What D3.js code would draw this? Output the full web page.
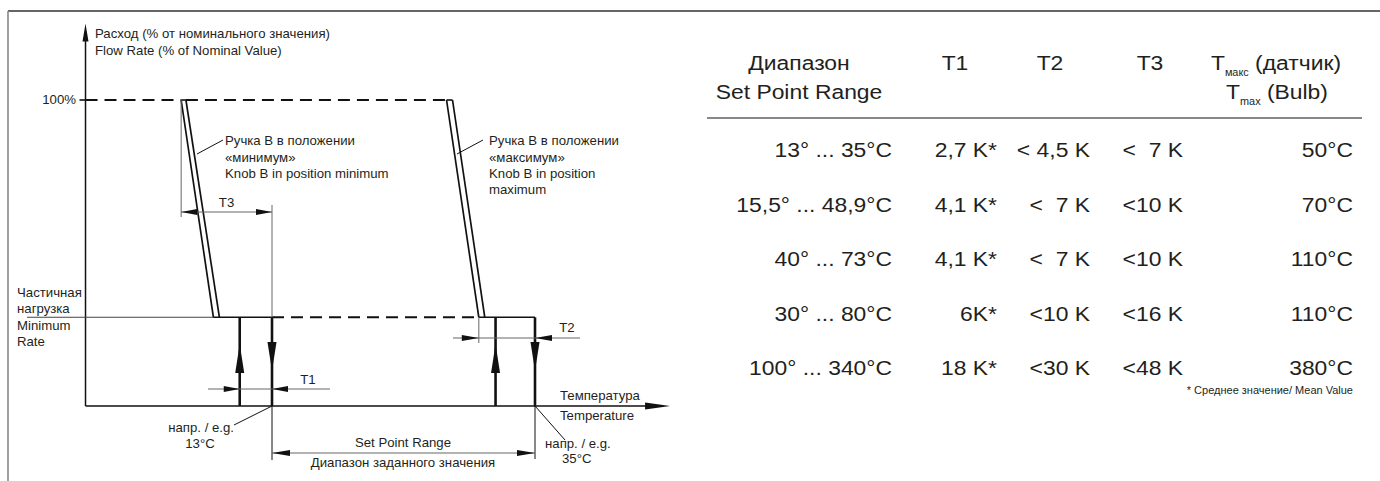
<!DOCTYPE html>
<html><head><meta charset="utf-8">
<script src="https://cdn.jsdelivr.net/npm/d3@7"></script>
<style>
html,body{margin:0;padding:0;background:#fff;}
svg{display:block;}
text{font-family:"Liberation Sans",Arial,sans-serif;fill:#231f20;white-space:pre;}
</style></head>
<body>
<svg id="c" width="1380" height="481"></svg>
<script>
// ---------- DATA ----------
// Example set point (°C) used in the diagram: 13°C ... 35°C
const setPoints = [13, 35];
const flowLevels = [100, 29];          // % nominal: full flow, minimum (partial) rate
const yAxisMax = 125;                  // % – top of flow axis arrow
const xAxisRange = [-2.6, 46.3];       // °C – extent of temperature axis
// knob B "minimum" curve (double line): [temp at 100%, temp at min rate]
const curveMinA = [5.4, 8.1];
const curveMinB = [5.8, 8.6];
// knob B "maximum" curve
const curveMaxA = [27.6, 30.3];
const curveMaxB = [28.1, 30.8];
const openPoints = [10.3, 31.7];       // valve opening temps (up arrows)
const t1Dim = [10.3, 13];
const t2Dim = [30.3, 35];
const t3Dim = [5.4, 13];

// table
const tableHeader = ["T1", "T2", "T3"];
const ranges = ["13° ... 35°C", "15,5° ... 48,9°C", "40° ... 73°C", "30° ... 80°C", "100° ... 340°C"];
const t1Values = ["2,7 K*", "4,1 K*", "4,1 K*", "6K*", "18 K*"];
const t2Values = ["< 4,5 K", "<  7 K", "<  7 K", "<10 K", "<30 K"];
const t3Values = ["<  7 K", "<10 K", "<10 K", "<16 K", "<48 K"];
const tmaxValues = ["50°C", "70°C", "110°C", "110°C", "380°C"];

// ---------- DRAW ----------
const svg = d3.select("#c");
const x = d3.scaleLinear().domain(setPoints).range([272, 535]);
const y = d3.scaleLinear().domain([0, 100]).range([406, 100]);

const SX = 1.1, FS = 12;
function txt(g, px, py, s, o = {}) {
  const t = g.append("text")
    .attr("transform", `translate(${px},${py}) scale(${o.sx || SX},1)`)
    .attr("text-anchor", o.anchor || "start")
    .attr("xml:space", "preserve")
    .style("font-size", (o.fs || FS) + "px");
  if (o.family) t.style("font-family", o.family);
  t.text(s);
  return t;
}
function line(g, x1, y1, x2, y2, w, c, dash) {
  const l = g.append("line").attr("x1", x1).attr("y1", y1).attr("x2", x2).attr("y2", y2)
    .attr("stroke", c || "#111").attr("stroke-width", w || 1);
  if (dash) l.attr("stroke-dasharray", dash);
  return l;
}
function tri(g, tx, ty, dir, len, hw, c) {
  let p;
  if (dir === "up") p = [[tx, ty], [tx - hw, ty + len], [tx + hw, ty + len]];
  if (dir === "down") p = [[tx, ty], [tx - hw, ty - len], [tx + hw, ty - len]];
  if (dir === "left") p = [[tx, ty], [tx + len, ty - hw], [tx + len, ty + hw]];
  if (dir === "right") p = [[tx, ty], [tx - len, ty - hw], [tx - len, ty + hw]];
  g.append("path").attr("d", d3.line()(p) + "Z").attr("fill", c || "#111");
}

// frame
line(svg, 8, 11, 1380, 11, 1.3, "#333");
line(svg, 8, 11, 8, 481, 1.6, "#888");

const g = svg.append("g");
const x0 = x(xAxisRange[0]), xEnd = x(xAxisRange[1]);
const y0 = y(0), yTop = y(yAxisMax);
const yFull = y(flowLevels[0]), yMin = y(flowLevels[1]);

// axes
line(g, x0, y0, xEnd - 10, y0, 1.5, "#111");
tri(g, xEnd, y0, "right", 25, 3.5);
line(g, x0, y0, x0, yTop + 10, 1.5, "#111");
tri(g, x0, yTop, "up", 18, 3);

// 100% line
const DASH = "12,7";
line(g, x0 - 6, yFull, x0, yFull, 1.6, "#111");
line(g, x0, yFull, x(curveMinA[0]), yFull, 1.8, "#111", DASH);
line(g, x(curveMinB[0]), yFull, x(curveMaxA[0]), yFull, 1.8, "#111", DASH);
line(g, x(curveMinA[0]), yFull, x(curveMinB[0]), yFull, 1.6, "#111");
line(g, x(curveMaxA[0]), yFull, x(curveMaxB[0]), yFull, 1.6, "#111");

// minimum rate line
line(g, 27, yMin, x(curveMinA[1]), yMin, 1, "#444");
line(g, x(curveMinA[1]), yMin, x(setPoints[0]), yMin, 1.6, "#111");
line(g, x(setPoints[0]), yMin, x(curveMaxA[1]), yMin, 1.8, "#111", DASH);
line(g, x(curveMaxA[1]), yMin, x(setPoints[1]), yMin, 1.6, "#111");

// curves (double lines)
[curveMinA, curveMinB, curveMaxA, curveMaxB].forEach(c => {
  line(g, x(c[0]), yFull, x(c[1]), yMin, 1.7, "#111");
});

// open / close arrows
openPoints.forEach(t => {
  line(g, x(t), y0, x(t), yMin, 2.6, "#111");
  tri(g, x(t), 344, "up", 29, 4.5);
});
setPoints.forEach(t => {
  line(g, x(t), yMin, x(t), y0, 2.6, "#111");
  tri(g, x(t), 371, "down", 29, 4.5);
});

// T3 dimension
const gr = "#666";
line(g, x(t3Dim[0]), yFull, x(t3Dim[0]), 217, 1, gr);
line(g, x(t3Dim[1]), 205, x(t3Dim[1]), yMin, 1, gr);
line(g, x(t3Dim[0]), 212, x(t3Dim[1]), 212, 1, gr);
tri(g, x(t3Dim[0]), 212, "left", 16, 3);
tri(g, x(t3Dim[1]), 212, "right", 16, 3);
txt(g, (x(t3Dim[0]) + x(t3Dim[1])) / 2, 207, "T3", {anchor: "middle"});

// T1 dimension
line(g, 208, 389, 330, 389, 1, gr);
tri(g, x(t1Dim[0]), 389, "right", 16, 3);
tri(g, x(t1Dim[1]), 389, "left", 16, 3);
txt(g, 308, 384, "T1", {anchor: "middle"});

// T2 dimension
line(g, x(t2Dim[0]), yMin, x(t2Dim[0]), 343, 1, gr);
line(g, 453, 338, 580, 338, 1, gr);
tri(g, x(t2Dim[0]), 338, "right", 17, 3);
tri(g, x(t2Dim[1]), 338, "left", 17, 3);
txt(g, 567, 332, "T2", {anchor: "middle"});

// set point range dimension
line(g, x(setPoints[0]), y0, x(setPoints[0]), 460, 1, "#111");
line(g, x(setPoints[1]), y0, x(setPoints[1]), 459, 1, "#111");
line(g, x(setPoints[0]), 453, x(setPoints[1]), 453, 1, gr);
tri(g, x(setPoints[0]), 453, "left", 18, 3);
tri(g, x(setPoints[1]), 453, "right", 18, 3);
txt(g, 403, 447, "Set Point Range", {anchor: "middle"});
txt(g, 403, 467, "Диапазон заданного значения", {anchor: "middle"});

// leaders
line(g, 197, 154, 223, 140, 1, "#111");
line(g, 457, 154, 483, 140, 1, "#111");
line(g, 234, 425, x(setPoints[0]), y0, 1, "#111");
line(g, x(setPoints[1]), y0, 565, 440, 1, "#111");

// texts
txt(g, 95, 38, "Расход (% от номинального значения)");
txt(g, 95, 55, "Flow Rate (% of Nominal Value)");
txt(g, 76, 104, "100%", {anchor: "end"});
txt(g, 17, 297, "Частичная");
txt(g, 17, 313, "нагрузка");
txt(g, 17, 330, "Minimum");
txt(g, 17, 346, "Rate");
txt(g, 225, 145, "Ручка B в положении");
txt(g, 225, 162, "«минимум»");
txt(g, 225, 178, "Knob B in position minimum");
txt(g, 489, 145, "Ручка B в положении");
txt(g, 489, 162, "«максимум»");
txt(g, 489, 178, "Knob B in position");
txt(g, 489, 194, "maximum");
txt(g, 560, 400, "Температура");
txt(g, 560, 420, "Temperature");
txt(g, 234, 432, "напр. / e.g.", {anchor: "end"});
txt(g, 200, 448, "13°C", {anchor: "middle"});
txt(g, 545, 448, "напр. / e.g.");
txt(g, 562, 463, "35°C");

// ---------- TABLE ----------
const tg = svg.append("g");
const TFS = 21, TSX = 1.09;
const rowY = d3.scalePoint().domain(d3.range(ranges.length)).range([157, 375]);
const colRight = [892, 997, 1090, 1183, 1353];
const cols = [ranges, t1Values, t2Values, t3Values, tmaxValues];

txt(tg, 799, 70, "Диапазон", {anchor: "middle", fs: TFS, sx: TSX});
txt(tg, 799, 99, "Set Point Range", {anchor: "middle", fs: TFS, sx: TSX});
const hdrX = [955, 1050, 1150];
tableHeader.forEach((h, i) => txt(tg, hdrX[i], 70, h, {anchor: "middle", fs: TFS, sx: TSX}));

function subHeader(px, py, main, sub, rest) {
  const t = tg.append("text")
    .attr("transform", `translate(${px},${py}) scale(${TSX},1)`)
    .attr("text-anchor", "middle").style("font-size", TFS + "px");
  t.append("tspan").text(main);
  t.append("tspan").attr("dy", 6).style("font-size", "10px").text(sub);
  t.append("tspan").attr("dy", -6).text(rest);
}
subHeader(1276, 70, "T", "макс", " (датчик)");
subHeader(1277, 99, "T", "max", " (Bulb)");

line(tg, 707, 118, 1362, 118, 2, "#888");

cols.forEach((col, ci) => {
  col.forEach((v, ri) => {
    txt(tg, colRight[ci], rowY(ri), v, {anchor: "end", fs: TFS, sx: TSX});
  });
});

txt(tg, 1353, 394, "* Среднее значение/ Mean Value",
  {anchor: "end", fs: 11, sx: 1.0, family: "'Liberation Sans Narrow','Arial Narrow',sans-serif"});
</script>
</body></html>
